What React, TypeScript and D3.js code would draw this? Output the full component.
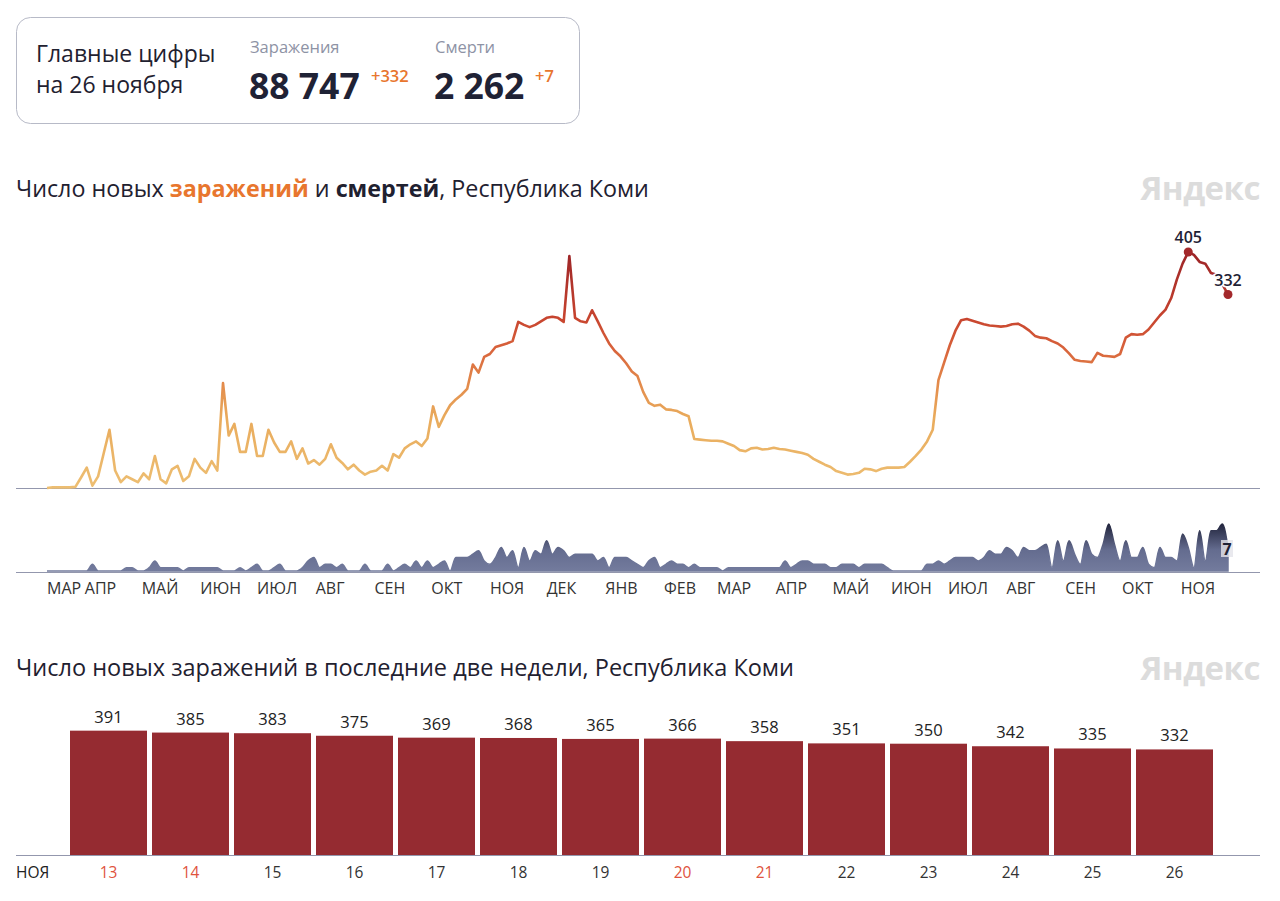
import React, { useEffect, useRef } from 'react';
import * as d3 from 'd3';

const FONT = "'Open Sans', 'Noto Sans', sans-serif";

// first reading and spacing of the long series
const START = new Date(2020, 2, 12);
const STEP_DAYS = 3;

// new infections per day, read every 3 days from 12 Mar 2020 to 26 Nov 2021
const infections = [
  0, 1, 1, 1, 1,
  2, 18, 35, 4, 20,
  60, 100, 30, 10, 20,
  15, 10, 25, 15, 55,
  15, 8, 32, 38, 12,
  20, 50, 35, 26, 46,
  30, 180, 90, 110, 62,
  62, 110, 55, 55, 100,
  78, 62, 62, 80, 50,
  68, 42, 48, 40, 50,
  75, 52, 43, 32, 40,
  30, 23, 28, 30, 38,
  30, 58, 52, 68, 75,
  80, 72, 85, 140, 105,
  125, 142, 152, 160, 170,
  212, 198, 225, 230, 242,
  245, 248, 252, 285, 280,
  276, 280, 286, 292, 294,
  292, 285, 398, 292, 286,
  284, 305, 286, 266, 248,
  235, 226, 214, 200, 192,
  165, 146, 141, 143, 135,
  134, 132, 127, 123, 84,
  83, 82, 81, 81, 80,
  76, 72, 65, 63, 68,
  69, 66, 67, 69, 67,
  66, 64, 62, 60, 57,
  50, 45, 40, 36, 29,
  26, 23, 24, 26, 33,
  32, 29, 33, 35, 35,
  35, 36, 45, 55, 66,
  80, 100, 185, 215, 245,
  270, 288, 290, 287, 284,
  281, 279, 278, 277, 278,
  281, 282, 277, 270, 261,
  258, 257, 252, 248, 241,
  231, 220, 218, 217, 216,
  232, 227, 226, 225, 230,
  258, 264, 263, 264, 272,
  284, 296, 306, 326, 358,
  385, 405, 400, 388, 385,
  369, 366, 350, 332,
];

// deaths per day, same dates
const deaths = [
  0, 0, 0, 0, 0,
  0, 0, 0, 2, 0,
  0, 0, 0, 0, 1,
  1, 0, 0, 1, 3,
  1, 1, 1, 1, 0,
  1, 1, 1, 1, 1,
  1, 0, 0, 0, 1,
  0, 1, 2, 0, 0,
  1, 2, 0, 0, 0,
  1, 3, 4, 1, 2,
  2, 1, 2, 0, 0,
  0, 2, 0, 0, 0,
  2, 0, 1, 2, 1,
  3, 1, 3, 1, 2,
  3, 0, 4, 4, 4,
  5, 6, 3, 2, 4,
  7, 4, 6, 1, 7,
  3, 6, 5, 9, 5,
  7, 6, 4, 5, 5,
  5, 5, 3, 4, 1,
  4, 4, 4, 3, 2,
  1, 3, 4, 1, 2,
  3, 2, 2, 1, 2,
  1, 1, 1, 1, 0,
  1, 1, 1, 1, 1,
  1, 1, 1, 1, 1,
  3, 1, 2, 3, 3,
  2, 2, 2, 1, 1,
  2, 2, 2, 1, 2,
  2, 2, 2, 1, 0,
  0, 0, 0, 0, 0,
  2, 2, 3, 2, 3,
  4, 4, 4, 4, 3,
  4, 6, 5, 5, 7,
  6, 4, 7, 6, 6,
  7, 8, 1, 9, 3,
  9, 5, 2, 9, 5,
  4, 8, 14, 8, 3,
  9, 4, 4, 7, 2,
  1, 7, 4, 4, 3,
  11, 7, 1, 12, 3,
  12, 12, 14, 7,
];

const monthLabels = [
  'МАР', 'АПР', 'МАЙ', 'ИЮН', 'ИЮЛ', 'АВГ', 'СЕН', 'ОКТ', 'НОЯ', 'ДЕК', 'ЯНВ',
  'ФЕВ', 'МАР', 'АПР', 'МАЙ', 'ИЮН', 'ИЮЛ', 'АВГ', 'СЕН', 'ОКТ', 'НОЯ',
];

// last two weeks
const lastDays = ['13', '14', '15', '16', '17', '18', '19', '20', '21', '22', '23', '24', '25', '26'];
const lastValues = [391, 385, 383, 375, 369, 368, 365, 366, 358, 351, 350, 342, 335, 332];
const weekendDays = ['13', '14', '20', '21'];

// line colour by value
const lineStops: [number, string][] = [
  [0, '#edbe72'],
  [120, '#e9ab5c'],
  [180, '#e38a4b'],
  [240, '#d8623b'],
  [290, '#c8452f'],
  [405, '#9c2427'],
];

const App: React.FC = () => {
  const svgRef = useRef<SVGSVGElement>(null);

  useEffect(() => {
    if (!svgRef.current) return;
    const svg = d3.select(svgRef.current);
    svg.selectAll('*').remove();
    const defs = svg.append('defs');

    // ---- summary card
    svg.append('rect')
      .attr('x', 16.5).attr('y', 17.5).attr('width', 563).attr('height', 106).attr('rx', 14)
      .attr('fill', '#fff').attr('stroke', '#b7bac7');
    const card = [
      { t: 'Главные цифры', x: 36, y: 62, s: 23, c: '#1f2130', w: 400 },
      { t: 'на 26 ноября', x: 36, y: 93, s: 23, c: '#1f2130', w: 400 },
      { t: 'Заражения', x: 250, y: 53, s: 16.5, c: '#8e93a5', w: 400 },
      { t: 'Смерти', x: 435, y: 53, s: 16.5, c: '#8e93a5', w: 400 },
      { t: '88 747', x: 249, y: 99, s: 35.5, c: '#1f2235', w: 700 },
      { t: '2 262', x: 434, y: 99, s: 35.5, c: '#1f2235', w: 700 },
      { t: '+332', x: 371, y: 82, s: 16.5, c: '#e8762e', w: 600 },
      { t: '+7', x: 535, y: 82, s: 16.5, c: '#e8762e', w: 600 },
    ];
    svg.selectAll('text.card').data(card).join('text')
      .attr('class', 'card')
      .attr('x', d => d.x).attr('y', d => d.y)
      .attr('fill', d => d.c)
      .style('font-size', d => d.s + 'px').style('font-weight', d => d.w)
      .text(d => d.t);

    // ---- titles
    const title = svg.append('text').attr('x', 16).attr('y', 197)
      .style('font-size', '23.3px').attr('fill', '#1f2130');
    title.append('tspan').text('Число новых ');
    title.append('tspan').text('заражений').attr('fill', '#e8762e').style('font-weight', 700);
    title.append('tspan').text(' и ');
    title.append('tspan').text('смертей').style('font-weight', 700);
    title.append('tspan').text(', Республика Коми');

    svg.append('text').attr('x', 16).attr('y', 676)
      .style('font-size', '23.5px').attr('fill', '#1f2130')
      .text('Число новых заражений в последние две недели, Республика Коми');

    [200, 680].forEach(y => {
      svg.append('text').attr('x', 1260).attr('y', y).attr('text-anchor', 'end')
        .style('font-size', '33px').style('font-weight', 700).style('letter-spacing', '-0.5px')
        .attr('fill', '#dcdcdc').text('Яндекс');
    });

    // ---- infections line
    const dates = infections.map((_, i) => d3.timeDay.offset(START, i * STEP_DAYS));
    const END = dates[dates.length - 1];
    const x = d3.scaleTime().domain([START, END]).range([47, 1228]);
    const yInf = d3.scaleLinear().domain([0, 405]).range([488, 252]);

    const lg = defs.append('linearGradient').attr('id', 'infGrad')
      .attr('gradientUnits', 'userSpaceOnUse')
      .attr('x1', 0).attr('x2', 0).attr('y1', yInf(0)).attr('y2', yInf(405));
    lineStops.forEach(([v, c]) => lg.append('stop').attr('offset', v / 405).attr('stop-color', c));

    svg.append('line').attr('x1', 16).attr('x2', 1260).attr('y1', 488.5).attr('y2', 488.5)
      .attr('stroke', '#9397ad');

    const line = d3.line<number>()
      .x((_, i) => x(dates[i]))
      .y(d => yInf(d));
    svg.append('path').datum(infections)
      .attr('fill', 'none').attr('stroke', 'url(#infGrad)').attr('stroke-width', 2.6)
      .attr('stroke-linejoin', 'round').attr('d', line);

    const maxI = d3.maxIndex(infections);
    const lastI = infections.length - 1;
    [maxI, lastI].forEach(i => {
      const cx = x(dates[i]);
      const cy = yInf(infections[i]);
      svg.append('circle').attr('cx', cx).attr('cy', cy).attr('r', 4.5).attr('fill', '#a3282b');
      svg.append('text').attr('x', cx).attr('y', cy - 9).attr('text-anchor', 'middle')
        .style('font-size', '16px').style('font-weight', 600)
        .attr('fill', '#1f2235').attr('stroke', '#fff').attr('stroke-width', 3)
        .attr('paint-order', 'stroke').text(infections[i]);
    });

    // ---- deaths area
    const yD = d3.scaleLinear().domain([0, 14]).range([571, 524]);
    const dg = defs.append('linearGradient').attr('id', 'deathGrad')
      .attr('gradientUnits', 'userSpaceOnUse')
      .attr('x1', 0).attr('x2', 0).attr('y1', yD(0)).attr('y2', yD(14));
    dg.append('stop').attr('offset', 0).attr('stop-color', '#737b9d');
    dg.append('stop').attr('offset', 0.45).attr('stop-color', '#646c8f');
    dg.append('stop').attr('offset', 1).attr('stop-color', '#22253d');

    const area = d3.area<number>()
      .x((_, i) => x(dates[i]))
      .y0(yD(0))
      .y1(d => yD(d))
      .curve(d3.curveMonotoneX);
    svg.append('path').datum(deaths)
      .attr('fill', 'url(#deathGrad)').attr('stroke', 'url(#deathGrad)').attr('stroke-width', 1.5)
      .attr('d', area);

    svg.append('line').attr('x1', 16).attr('x2', 1260).attr('y1', 572.5).attr('y2', 572.5)
      .attr('stroke', '#9397ad');

    const lastD = deaths[deaths.length - 1];
    svg.append('rect').attr('x', 1221).attr('y', 540).attr('width', 12).attr('height', 17)
      .attr('fill', '#e3e4ea').attr('opacity', 0.8);
    svg.append('text').attr('x', 1227).attr('y', 555).attr('text-anchor', 'middle')
      .style('font-size', '16px').style('font-weight', 700).attr('fill', '#1f2235')
      .text(lastD);

    // month labels
    const monthStarts = [START, ...d3.timeMonth.range(d3.timeMonth.ceil(START), END)];
    svg.selectAll('text.month').data(monthStarts).join('text')
      .attr('class', 'month')
      .attr('x', d => x(d)).attr('y', 594)
      .style('font-size', '16px').attr('fill', '#333')
      .text((_, i) => monthLabels[i]);

    // ---- last two weeks bars
    const xb = d3.scaleBand().domain(lastDays).range([70, 1213]).paddingInner(5 / 82).paddingOuter(0);
    const yb = d3.scaleLinear().domain([0, 400]).range([855, 855 - 127.2]);

    svg.selectAll('rect.bar').data(lastValues).join('rect')
      .attr('class', 'bar')
      .attr('x', (_, i) => xb(lastDays[i])!)
      .attr('y', d => yb(d))
      .attr('width', xb.bandwidth())
      .attr('height', d => yb(0) - yb(d))
      .attr('fill', '#952b31');

    svg.selectAll('text.val').data(lastValues).join('text')
      .attr('class', 'val')
      .attr('x', (_, i) => xb(lastDays[i])! + xb.bandwidth() / 2)
      .attr('y', d => yb(d) - 8)
      .attr('text-anchor', 'middle')
      .style('font-size', '16.5px').attr('fill', '#222')
      .text(d => d);

    svg.append('line').attr('x1', 16).attr('x2', 1260).attr('y1', 855.5).attr('y2', 855.5)
      .attr('stroke', '#9397ad');

    svg.selectAll('text.day').data(lastDays).join('text')
      .attr('class', 'day')
      .attr('x', d => xb(d)! + xb.bandwidth() / 2)
      .attr('y', 878)
      .attr('text-anchor', 'middle')
      .style('font-size', '15.5px')
      .attr('fill', d => (weekendDays.includes(d) ? '#e0533d' : '#333'))
      .text(d => d);

    svg.append('text').attr('x', 16).attr('y', 878)
      .style('font-size', '15.5px').attr('fill', '#222').text('НОЯ');
  }, []);

  return (
    <div style={{ position: 'absolute', left: 0, top: 0 }}>
      <svg
        ref={svgRef}
        width={1280}
        height={901}
        style={{ display: 'block', background: '#fff', fontFamily: FONT }}
      />
    </div>
  );
};

export default App;
